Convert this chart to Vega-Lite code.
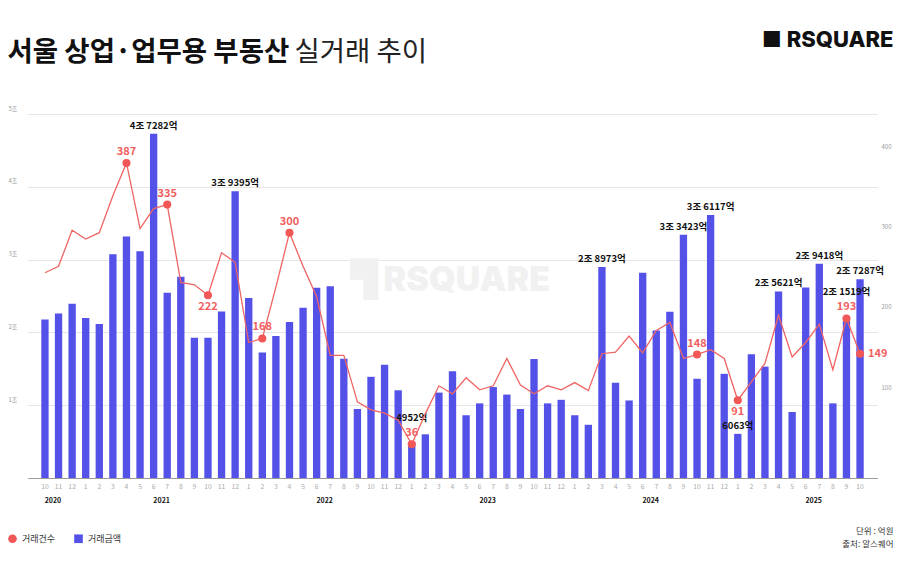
{
  "$schema": "https://vega.github.io/schema/vega-lite/v6.json",
  "width": 885,
  "height": 364,
  "autosize": {"type": "none"},
  "padding": {"left": 8, "top": 114, "right": 7, "bottom": 102},
  "background": "white",
  "config": {"view": {"stroke": null}, "font": "Noto Sans CJK KR"},
  "title": {"text": "▜ RSQUARE", "anchor": "middle", "frame": "group", "font": "Inter", "fontSize": 34, "fontWeight": 900, "color": "#f1f1f1", "offset": -270},
  "data": {"values": [
    {"ym": "2020-10", "amount": 21760, "count": 250},
    {"ym": "2020-11", "amount": 22600, "count": 258},
    {"ym": "2020-12", "amount": 23920, "count": 303},
    {"ym": "2021-01", "amount": 21980, "count": 292},
    {"ym": "2021-02", "amount": 21160, "count": 300},
    {"ym": "2021-03", "amount": 30730, "count": 346},
    {"ym": "2021-04", "amount": 33170, "count": 387, "cnt_label": "387"},
    {"ym": "2021-05", "amount": 31140, "count": 305},
    {"ym": "2021-06", "amount": 47282, "count": 330, "amt_label": "4조 7282억"},
    {"ym": "2021-07", "amount": 25450, "count": 335, "cnt_label": "335"},
    {"ym": "2021-08", "amount": 27660, "count": 238},
    {"ym": "2021-09", "amount": 19260, "count": 235},
    {"ym": "2021-10", "amount": 19260, "count": 222, "cnt_label": "222"},
    {"ym": "2021-11", "amount": 22880, "count": 275},
    {"ym": "2021-12", "amount": 39395, "count": 263, "amt_label": "3조 9395억"},
    {"ym": "2022-01", "amount": 24730, "count": 163},
    {"ym": "2022-02", "amount": 17240, "count": 168, "cnt_label": "168"},
    {"ym": "2022-03", "amount": 19490, "count": 232},
    {"ym": "2022-04", "amount": 21440, "count": 300, "cnt_label": "300"},
    {"ym": "2022-05", "amount": 23380, "count": 258},
    {"ym": "2022-06", "amount": 26130, "count": 220},
    {"ym": "2022-07", "amount": 26350, "count": 147},
    {"ym": "2022-08", "amount": 16380, "count": 147},
    {"ym": "2022-09", "amount": 9480, "count": 89},
    {"ym": "2022-10", "amount": 13900, "count": 79},
    {"ym": "2022-11", "amount": 15570, "count": 75},
    {"ym": "2022-12", "amount": 12050, "count": 66},
    {"ym": "2023-01", "amount": 4952, "count": 36, "amt_label": "4952억", "cnt_label": "36"},
    {"ym": "2023-02", "amount": 6000, "count": 74},
    {"ym": "2023-03", "amount": 11730, "count": 109},
    {"ym": "2023-04", "amount": 14660, "count": 99},
    {"ym": "2023-05", "amount": 8620, "count": 119},
    {"ym": "2023-06", "amount": 10250, "count": 104},
    {"ym": "2023-07", "amount": 12490, "count": 109},
    {"ym": "2023-08", "amount": 11460, "count": 143},
    {"ym": "2023-09", "amount": 9480, "count": 110},
    {"ym": "2023-10", "amount": 16340, "count": 99},
    {"ym": "2023-11", "amount": 10250, "count": 109},
    {"ym": "2023-12", "amount": 10740, "count": 104},
    {"ym": "2024-01", "amount": 8620, "count": 113},
    {"ym": "2024-02", "amount": 7310, "count": 103},
    {"ym": "2024-03", "amount": 28973, "count": 149, "amt_label": "2조 8973억"},
    {"ym": "2024-04", "amount": 13080, "count": 151},
    {"ym": "2024-05", "amount": 10650, "count": 171},
    {"ym": "2024-06", "amount": 28200, "count": 150},
    {"ym": "2024-07", "amount": 20260, "count": 178},
    {"ym": "2024-08", "amount": 22840, "count": 188},
    {"ym": "2024-09", "amount": 33423, "count": 143, "amt_label": "3조 3423억"},
    {"ym": "2024-10", "amount": 13630, "count": 148, "cnt_label": "148"},
    {"ym": "2024-11", "amount": 36117, "count": 154, "amt_label": "3조 6117억"},
    {"ym": "2024-12", "amount": 14310, "count": 143},
    {"ym": "2025-01", "amount": 6063, "count": 91, "amt_label": "6063억", "cnt_label": "91"},
    {"ym": "2025-02", "amount": 17010, "count": 114},
    {"ym": "2025-03", "amount": 15300, "count": 137},
    {"ym": "2025-04", "amount": 25621, "count": 197, "amt_label": "2조 5621억"},
    {"ym": "2025-05", "amount": 9070, "count": 145},
    {"ym": "2025-06", "amount": 26180, "count": 163},
    {"ym": "2025-07", "amount": 29418, "count": 186, "amt_label": "2조 9418억"},
    {"ym": "2025-08", "amount": 10250, "count": 129},
    {"ym": "2025-09", "amount": 21519, "count": 193, "amt_label": "2조 1519억", "cnt_label": "193"},
    {"ym": "2025-10", "amount": 27287, "count": 149, "amt_label": "2조 7287억", "cnt_label": "149"}
  ]},
  "layer": [
    {
      "encoding": {
        "x": {
          "field": "ym", "type": "ordinal",
          "scale": {"type": "band", "range": [19.7, 869.3], "paddingInner": 0.46, "paddingOuter": 1, "align": 0.5},
          "axis": {
            "orient": "bottom", "labelExpr": "toNumber(substring(datum.value,5,7)) + ''",
            "labelAngle": 0, "labelFontSize": 6.8, "labelColor": "#aaaaaa", "labelPadding": 5, "labelOverlap": false,
            "ticks": false, "grid": false, "domain": false,
            "title": "실거래 추이", "titleX": 286, "titleY": -418, "titleAlign": "left", "titleBaseline": "alphabetic", "titleAngle": 0,
            "titleFont": "Noto Sans CJK KR", "titleFontSize": 27.5, "titleFontWeight": "normal", "titleColor": "#222222"
          }
        },
        "y": {
          "field": "amount", "type": "quantitative",
          "scale": {"domain": [0, 50000], "nice": false, "zero": true},
          "axis": {
            "orient": "left", "values": [0, 10000, 20000, 30000, 40000, 50000],
            "labelExpr": "datum.value == 0 ? '' : (datum.value/10000) + '조'",
            "grid": true,
            "gridColor": {"condition": {"test": "datum.value === 0", "value": "#9a9a9a"}, "value": "#e6e6e6"},
            "gridWidth": 1, "domain": false, "ticks": false,
            "labelAlign": "left", "labelBaseline": "bottom", "labelPadding": 0, "labelOffset": -3, "labelFontSize": 6, "labelColor": "#999999",
            "title": "서울 상업·업무용 부동산", "titleX": -1, "titleY": -54, "titleAlign": "left", "titleBaseline": "alphabetic", "titleAngle": 0,
            "titleFont": "Noto Sans CJK KR", "titleFontSize": 27.5, "titleFontWeight": "bold", "titleColor": "#111111"
          }
        }
      },
      "layer": [
        {
          "mark": {"type": "bar"},
          "encoding": {
            "color": {
              "datum": "거래금액", "type": "nominal",
              "scale": {"domain": ["거래건수", "거래금액"], "range": ["#f25757", "#5451e8"]},
              "legend": {
                "orient": "none", "legendX": 0, "legendY": 420, "direction": "horizontal", "title": null,
                "labelFont": "Noto Sans CJK KR", "labelFontSize": 9, "labelColor": "#333333", "symbolSize": 75,
                "columnPadding": 18, "labelOffset": 5, "symbolStrokeWidth": 0,
                "encode": {"symbols": {"update": {"shape": {"signal": "datum.value === '거래건수' ? 'circle' : 'square'"}}}}
              }
            }
          }
        },
        {
          "transform": [{"filter": "isValid(datum.amt_label) && datum.ym != '2023-01' && datum.ym != '2025-09'"}],
          "mark": {"type": "text", "baseline": "bottom", "dy": -3, "fontSize": 9.5, "fontWeight": "bold", "color": "#111111", "font": "Noto Sans CJK KR"},
          "encoding": {"text": {"field": "amt_label"}}
        },
        {
          "transform": [{"filter": "datum.ym == '2023-01'"}],
          "mark": {"type": "text", "baseline": "bottom", "dy": -19, "fontSize": 9.5, "fontWeight": "bold", "color": "#111111", "font": "Noto Sans CJK KR"},
          "encoding": {"text": {"field": "amt_label"}}
        },
        {
          "transform": [{"filter": "datum.ym == '2025-09'"}],
          "mark": {"type": "text", "baseline": "bottom", "dy": -24, "fontSize": 9.5, "fontWeight": "bold", "color": "#111111", "font": "Noto Sans CJK KR"},
          "encoding": {"text": {"field": "amt_label"}}
        }
      ]
    },
    {
      "encoding": {
        "x": {
          "field": "ym", "type": "ordinal",
          "scale": {"type": "band", "range": [19.7, 869.3], "paddingInner": 0.46, "paddingOuter": 1, "align": 0.5},
          "axis": {
            "orient": "bottom",
            "labelExpr": "(substring(datum.value,5,7) == '06' || datum.value == '2020-10') ? substring(datum.value,0,4) : ''",
            "labelAngle": 0, "labelFontSize": 7, "labelFontWeight": "bold", "labelColor": "#111111", "labelPadding": 18, "labelOffset": 8, "labelOverlap": false,
            "ticks": false, "grid": false, "domain": false,
            "title": ["단위 : 억원", "출처: 알스퀘어"], "titleX": 885, "titleY": 55, "titleAlign": "right", "titleBaseline": "alphabetic", "titleAngle": 0,
            "titleFont": "Noto Sans CJK KR", "titleFontSize": 8.5, "titleFontWeight": "normal", "titleColor": "#333333", "titleLineHeight": 13
          }
        },
        "y": {
          "field": "count", "type": "quantitative",
          "scale": {"domain": [-6, 448], "nice": false, "zero": false},
          "axis": {
            "orient": "right", "values": [100, 200, 300, 400],
            "grid": false, "domain": false, "ticks": false,
            "labelAlign": "left", "labelBaseline": "bottom", "labelPadding": -12, "labelOffset": -3, "labelFontSize": 6, "labelColor": "#999999",
            "title": "■ RSQUARE", "titleX": 0, "titleY": -68, "titleAlign": "right", "titleBaseline": "alphabetic", "titleAngle": 0,
            "titleFont": "Inter", "titleFontSize": 22, "titleFontWeight": 800, "titleColor": "#111111"
          }
        }
      },
      "layer": [
        {
          "mark": {"type": "line", "color": "#ef6464", "strokeWidth": 1.3}
        },
        {
          "transform": [{"filter": "isValid(datum.cnt_label)"}],
          "mark": {"type": "point", "filled": true, "size": 65, "opacity": 1},
          "encoding": {"color": {"datum": "거래건수", "type": "nominal"}}
        },
        {
          "transform": [{"filter": "isValid(datum.cnt_label) && indexof(['2021-10','2025-01','2025-10'], datum.ym) < 0"}],
          "mark": {"type": "text", "baseline": "bottom", "dy": -6, "fontSize": 11, "fontWeight": "bold", "color": "#f06060", "font": "Noto Sans CJK KR"},
          "encoding": {"text": {"field": "cnt_label"}}
        },
        {
          "transform": [{"filter": "datum.ym == '2021-10' || datum.ym == '2025-01'"}],
          "mark": {"type": "text", "baseline": "top", "dy": 6, "fontSize": 11, "fontWeight": "bold", "color": "#f06060", "font": "Noto Sans CJK KR"},
          "encoding": {"text": {"field": "cnt_label"}}
        },
        {
          "transform": [{"filter": "datum.ym == '2025-10'"}],
          "mark": {"type": "text", "align": "left", "baseline": "middle", "dx": 8, "fontSize": 11, "fontWeight": "bold", "color": "#f06060", "font": "Noto Sans CJK KR"},
          "encoding": {"text": {"field": "cnt_label"}}
        }
      ]
    }
  ],
  "resolve": {"scale": {"y": "independent"}, "axis": {"x": "independent", "y": "independent"}}
}
